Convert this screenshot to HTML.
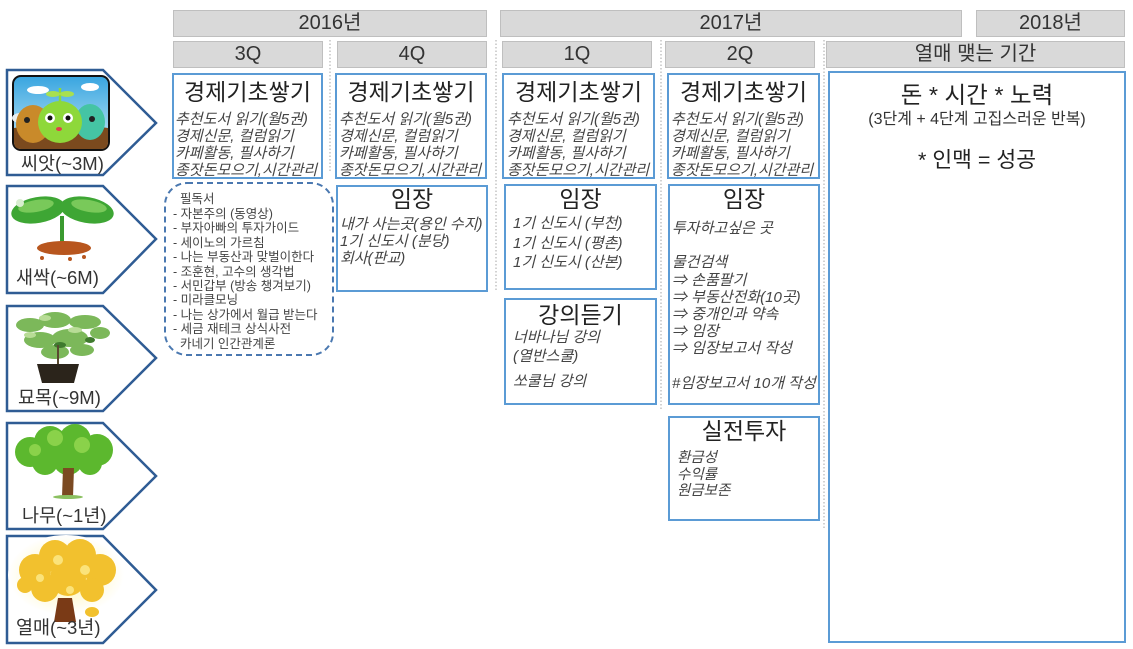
<!DOCTYPE html>
<html><head><meta charset="utf-8">
<style>
*{margin:0;padding:0;box-sizing:border-box}
body{width:1133px;height:649px;background:#fff;position:relative;overflow:hidden;font-family:"Liberation Sans","Noto Sans CJK KR",sans-serif;color:#333}
.h{position:absolute;background:#d9d9d9;border:1px solid #bfbfbf;text-align:center;font-size:20px;line-height:25px;color:#333}
.b{position:absolute;border:2.5px solid #5b9bd5;background:#fff}
.t{position:absolute;left:0;right:0;text-align:center;font-size:23px;line-height:26px;color:#222;white-space:nowrap}
.i{position:absolute;font-style:italic;font-size:15px;line-height:17px;color:#444;white-space:nowrap}
.lbl{position:absolute;font-size:18.5px;line-height:20px;color:#333;white-space:nowrap}
.d{position:absolute;font-size:12.5px;line-height:14.4px;color:#444;white-space:nowrap}
svg{position:absolute;left:0;top:0}
</style></head>
<body>
<svg width="1133" height="649" viewBox="0 0 1133 649">
<defs>
<linearGradient id="sky" x1="0" y1="0" x2="0" y2="1"><stop offset="0" stop-color="#3aa6e0"/><stop offset="1" stop-color="#c4e8f7"/></linearGradient>
<radialGradient id="glow" cx="0.5" cy="0.5" r="0.5"><stop offset="0" stop-color="#fff3a8"/><stop offset="1" stop-color="#ffffff"/></radialGradient>
</defs>
<g stroke="#c4c4c4" stroke-width="1.5" stroke-dasharray="1.5 2">
<line x1="330" y1="40" x2="330" y2="172"/>
<line x1="496" y1="40" x2="496" y2="290"/>
<line x1="661" y1="40" x2="661" y2="410"/>
<line x1="824" y1="40" x2="824" y2="530"/>
</g>
<g fill="#fff" stroke="#2f5c94" stroke-width="2.5">
<polygon points="7,70 103,70 156,123 103,175 7,175"/>
<polygon points="7,186 103,186 156,239 103,293 7,293"/>
<polygon points="7,306 103,306 156,358 103,411 7,411"/>
<polygon points="7,423 103,423 156,476 103,529 7,529"/>
<polygon points="7,536 103,536 156,590 103,643 7,643"/>
</g>
<rect x="12" y="75" width="98" height="76" rx="9" fill="#111"/>
<rect x="14" y="77" width="94" height="72" rx="7" fill="url(#sky)"/>
<ellipse cx="38" cy="90" rx="11" ry="4" fill="#fff"/>
<ellipse cx="90" cy="87" rx="9" ry="4" fill="#fff"/>
<ellipse cx="20" cy="118" rx="8" ry="5" fill="#e8eef0"/>
<path d="M14 128 Q60 121 108 128 L108 142 Q108 149 101 149 L21 149 Q14 149 14 142Z" fill="#7b4a1e"/>
<ellipse cx="33" cy="124" rx="17" ry="19" fill="#c98a2a"/>
<ellipse cx="90" cy="122" rx="15" ry="18" fill="#45c4a4"/>
<ellipse cx="60" cy="122" rx="22" ry="21" fill="#8ed83a"/>
<line x1="60" y1="102" x2="60" y2="88" stroke="#8ed83a" stroke-width="2.5"/>
<ellipse cx="53" cy="94" rx="7" ry="3" fill="#a8e050"/>
<ellipse cx="67" cy="94" rx="7" ry="3" fill="#a8e050"/>
<circle cx="50" cy="118" r="5" fill="#fff"/><circle cx="50" cy="118" r="2.5" fill="#111"/>
<circle cx="68" cy="118" r="5" fill="#fff"/><circle cx="68" cy="118" r="2.5" fill="#111"/>
<circle cx="27" cy="120" r="3" fill="#222"/><circle cx="92" cy="119" r="3" fill="#222"/>
<ellipse cx="59" cy="129" rx="3" ry="2" fill="#e0404a"/>
<ellipse cx="38" cy="210" rx="27" ry="13" transform="rotate(-10 38 210)" fill="#3ea634"/>
<ellipse cx="87" cy="210" rx="27" ry="13" transform="rotate(10 87 210)" fill="#3ea634"/>
<ellipse cx="36" cy="206" rx="18" ry="6" transform="rotate(-10 36 206)" fill="#79c95a"/>
<ellipse cx="89" cy="206" rx="18" ry="6" transform="rotate(10 89 206)" fill="#79c95a"/>
<circle cx="20" cy="203" r="4" fill="#d8eed0"/>
<rect x="60" y="216" width="4" height="30" fill="#3a9a30"/>
<ellipse cx="64" cy="248" rx="27" ry="7" fill="#b8561e"/>
<circle cx="42" cy="258" r="2" fill="#b8561e"/><circle cx="70" cy="259" r="2" fill="#b8561e"/><circle cx="84" cy="257" r="2" fill="#b8561e"/>
<g fill="#7cb85a">
<ellipse cx="30" cy="325" rx="14" ry="7"/><ellipse cx="55" cy="320" rx="16" ry="8"/><ellipse cx="85" cy="322" rx="16" ry="7"/>
<ellipse cx="100" cy="333" rx="10" ry="6"/><ellipse cx="40" cy="340" rx="16" ry="8"/><ellipse cx="70" cy="338" rx="18" ry="9"/>
<ellipse cx="55" cy="352" rx="14" ry="7"/><ellipse cx="82" cy="350" rx="12" ry="6"/>
</g>
<g fill="#b8dc96"><ellipse cx="45" cy="318" rx="6" ry="3"/><ellipse cx="75" cy="330" rx="7" ry="3"/><ellipse cx="30" cy="335" rx="6" ry="3"/></g>
<g fill="#3f7a2e"><ellipse cx="60" cy="345" rx="6" ry="3"/><ellipse cx="90" cy="340" rx="5" ry="3"/></g>
<line x1="58" y1="345" x2="58" y2="364" stroke="#5a4a30" stroke-width="2"/>
<path d="M37 364 L79 364 L74 383 L42 383Z" fill="#2b241b"/>
<g fill="#5cb82e">
<circle cx="30" cy="452" r="15"/><circle cx="50" cy="442" r="16"/><circle cx="75" cy="440" r="16"/><circle cx="97" cy="450" r="16"/>
<circle cx="45" cy="462" r="13"/><circle cx="68" cy="460" r="15"/><circle cx="90" cy="463" r="12"/>
</g>
<g fill="#8ad24a"><circle cx="55" cy="438" r="8"/><circle cx="82" cy="445" r="8"/><circle cx="35" cy="450" r="6"/></g>
<path d="M63 468 L74 468 L73 497 L62 497Z" fill="#7b4a22"/>
<ellipse cx="68" cy="497" rx="15" ry="2" fill="#8bc060"/>
<ellipse cx="66" cy="575" rx="58" ry="40" fill="url(#glow)"/>
<g fill="#f2c12e">
<circle cx="35" cy="570" r="16"/><circle cx="55" cy="556" r="16"/><circle cx="80" cy="555" r="16"/><circle cx="100" cy="570" r="16"/>
<circle cx="45" cy="588" r="14"/><circle cx="68" cy="578" r="18"/><circle cx="92" cy="590" r="12"/><circle cx="25" cy="585" r="8"/>
</g>
<g fill="#fbe37a"><circle cx="58" cy="560" r="5"/><circle cx="85" cy="570" r="5"/><circle cx="40" cy="578" r="4"/><circle cx="70" cy="590" r="4"/></g>
<path d="M58 598 L72 598 L76 622 L54 622Z" fill="#7a3a16"/>
<ellipse cx="92" cy="612" rx="7" ry="5" fill="#f2c12e"/>
<rect x="165" y="183" width="168" height="172" rx="22" fill="none" stroke="#4a78b0" stroke-width="2" stroke-dasharray="6 4"/>
</svg>

<div class="lbl" style="left:21px;top:154px">씨앗(~3M)</div>
<div class="lbl" style="left:16px;top:268px">새싹(~6M)</div>
<div class="lbl" style="left:18px;top:388px">묘목(~9M)</div>
<div class="lbl" style="left:22px;top:506px">나무(~1년)</div>
<div class="lbl" style="left:16px;top:618px">열매(~3년)</div>

<div class="h" style="left:173px;top:10px;width:314px;height:27px">2016년</div>
<div class="h" style="left:500px;top:10px;width:462px;height:27px">2017년</div>
<div class="h" style="left:976px;top:10px;width:149px;height:27px">2018년</div>
<div class="h" style="left:173px;top:41px;width:150px;height:27px">3Q</div>
<div class="h" style="left:337px;top:41px;width:150px;height:27px">4Q</div>
<div class="h" style="left:502px;top:41px;width:150px;height:27px">1Q</div>
<div class="h" style="left:665px;top:41px;width:150px;height:27px">2Q</div>
<div class="h" style="left:826px;top:41px;width:299px;height:27px">열매 맺는 기간</div>

<div class="b" style="left:172px;top:73px;width:151px;height:106px">
<div class="t" style="top:4px">경제기초쌓기</div>
<div class="i" style="left:1px;top:36px">추천도서 읽기(월5권)<br>경제신문, 컬럼읽기<br>카페활동, 필사하기<br>종잣돈모으기,시간관리</div>
</div>
<div class="b" style="left:335px;top:73px;width:152px;height:106px">
<div class="t" style="top:4px">경제기초쌓기</div>
<div class="i" style="left:2px;top:36px">추천도서 읽기(월5권)<br>경제신문, 컬럼읽기<br>카페활동, 필사하기<br>종잣돈모으기,시간관리</div>
</div>
<div class="b" style="left:502px;top:73px;width:153px;height:106px">
<div class="t" style="top:4px">경제기초쌓기</div>
<div class="i" style="left:3px;top:36px">추천도서 읽기(월5권)<br>경제신문, 컬럼읽기<br>카페활동, 필사하기<br>종잣돈모으기,시간관리</div>
</div>
<div class="b" style="left:667px;top:73px;width:153px;height:106px">
<div class="t" style="top:4px">경제기초쌓기</div>
<div class="i" style="left:2px;top:36px">추천도서 읽기(월5권)<br>경제신문, 컬럼읽기<br>카페활동, 필사하기<br>종잣돈모으기,시간관리</div>
</div>

<div class="d" style="left:180px;top:192px">필독서</div>
<div class="d" style="left:173px;top:207px">- 자본주의 (동영상)<br>- 부자아빠의 투자가이드<br>- 세이노의 가르침<br>- 나는 부동산과 맞벌이한다<br>- 조훈현, 고수의 생각법<br>- 서민갑부 (방송 챙겨보기)<br>- 미라클모닝<br>- 나는 상가에서 월급 받는다<br>- 세금 재테크 상식사전<br>&nbsp;&nbsp;카네기 인간관계론</div>

<div class="b" style="left:336px;top:185px;width:152px;height:107px">
<div class="t" style="top:-1px">임장</div>
<div class="i" style="left:2px;top:29px">내가 사는곳(용인 수지)<br>1기 신도시 (분당)<br>회사(판교)</div>
</div>

<div class="b" style="left:504px;top:184px;width:153px;height:106px">
<div class="t" style="top:0px">임장</div>
<div class="i" style="left:7px;top:28px;line-height:19.5px">1기 신도시 (부천)<br>1기 신도시 (평촌)<br>1기 신도시 (산본)</div>
</div>

<div class="b" style="left:504px;top:298px;width:153px;height:107px">
<div class="t" style="top:2px">강의듣기</div>
<div class="i" style="left:7px;top:28px;line-height:19px">너바나님 강의<br>(열반스쿨)</div>
<div class="i" style="left:7px;top:73px">쏘쿨님 강의</div>
</div>

<div class="b" style="left:668px;top:184px;width:152px;height:221px">
<div class="t" style="top:0px">임장</div>
<div class="i" style="left:2px;top:34px;line-height:17.2px">투자하고싶은 곳<br>&nbsp;<br>물건검색<br>⇒ 손품팔기<br>⇒ 부동산전화(10곳)<br>⇒ 중개인과 약속<br>⇒ 임장<br>⇒ 임장보고서 작성<br>&nbsp;<br>#임장보고서 10개 작성</div>
</div>

<div class="b" style="left:668px;top:416px;width:152px;height:105px">
<div class="t" style="top:0px">실전투자</div>
<div class="i" style="left:7px;top:32px;font-size:14.5px;line-height:16.5px">환금성<br>수익률<br>원금보존</div>
</div>

<div class="b" style="left:828px;top:71px;width:298px;height:572px">
<div class="t" style="top:9px;font-size:23.5px">돈 * 시간 * 노력</div>
<div class="t" style="top:38px;font-size:16px;line-height:18px;color:#333">(3단계 + 4단계 고집스러운 반복)</div>
<div class="t" style="top:74px;font-size:21.5px">* 인맥 = 성공</div>
</div>
</body></html>
